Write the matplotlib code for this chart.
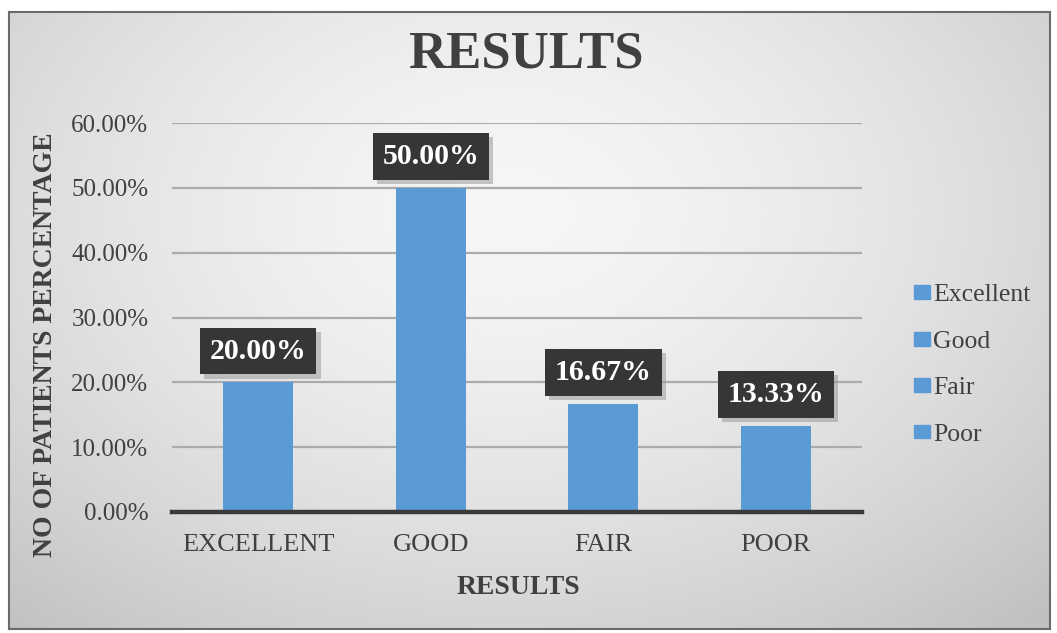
import numpy as np
import matplotlib
matplotlib.use("Agg")
import matplotlib.pyplot as plt
from matplotlib.patches import Patch
import matplotlib.patheffects as pe

categories = ["EXCELLENT", "GOOD", "FAIR", "POOR"]
legend_labels = ["Excellent", "Good", "Fair", "Poor"]
values = [20.00, 50.00, 16.67, 13.33]
yticks = [0, 10, 20, 30, 40, 50, 60]

SERIF = ["Liberation Serif", "DejaVu Serif"]
plt.rcParams["font.family"] = SERIF
TXT = "#404040"

W, H = 1057, 633
fig = plt.figure(figsize=(W / 100, H / 100), dpi=100)
fig.patch.set_facecolor("white")

# radial gradient panel behind the chart
bg = fig.add_axes([9 / W, 1 - 629 / H, (1050 - 9) / W, (629 - 12) / H], zorder=0)
yy, xx = np.mgrid[0:200, 0:340]
cx, cy = 0.48, 0.32
d = np.sqrt(((xx / 340) - cx) ** 2 + ((yy / 200) - cy) ** 2 * 0.7)
shade = 0.965 - 0.21 * np.clip(d / 0.75, 0, 1) ** 1.6
bg.imshow(np.dstack([shade] * 3), aspect="auto", extent=[0, 1, 0, 1], interpolation="bicubic")
bg.set_xlim(0, 1)
bg.set_ylim(0, 1)
bg.set_xticks([])
bg.set_yticks([])
for s in bg.spines.values():
    s.set_color("#6b6b6b")
    s.set_linewidth(1.5)

ax = fig.add_axes([172 / W, 1 - 512 / H, (862 - 172) / W, (512 - 123) / H], zorder=1)
ax.patch.set_alpha(0)

x = np.arange(len(categories))
bar_color = "#5b9bd5"
ax.bar(x, values, width=0.405, color=bar_color, zorder=2)

ax.set_xlim(-0.5, len(categories) - 0.5)
ax.set_ylim(0, 60)
ax.set_yticks(yticks)
ax.set_yticklabels([f"{v:.2f}%" for v in yticks], fontsize=18, color=TXT)
ax.set_xticks(x)
ax.set_xticklabels(categories, fontsize=19, color=TXT)
ax.tick_params(axis="both", length=0)
ax.tick_params(axis="y", pad=17)
ax.tick_params(axis="x", pad=16)
ax.yaxis.grid(True, color="#ababab", linewidth=1.6, zorder=0)
ax.set_axisbelow(True)
for side in ["top", "right", "left"]:
    ax.spines[side].set_visible(False)
ax.spines["bottom"].set_color("#3a3a3a")
ax.spines["bottom"].set_linewidth(3.2)
ax.spines["bottom"].set_zorder(3)

# axis titles and chart title
fig.text(518 / W, 1 - 587 / H, "RESULTS", ha="center", va="center",
         fontsize=20, fontweight="bold", color=TXT)
fig.text(46 / W, 1 - 345 / H, "NO OF PATIENTS PERCENTAGE", ha="center", va="center",
         rotation=90, fontsize=20, fontweight="bold", color=TXT)
fig.text(526 / W, 1 - 55 / H, "RESULTS", ha="center", va="center",
         fontsize=38, fontweight="bold", color=TXT)

# value labels in dark boxes
for xi, v in zip(x, values):
    ax.annotate(f"{v:.2f}%", (xi, v), xytext=(0, 22.5), textcoords="offset points",
                ha="center", va="center", fontsize=21.5, fontweight="bold", color="white",
                zorder=5,
                bbox=dict(boxstyle="square,pad=0.33", fc="#363636", ec="none",
                          path_effects=[pe.withSimplePatchShadow(offset=(3, -3),
                                                                 shadow_rgbFace="#9a9a9a",
                                                                 alpha=0.55)]))

handles = [Patch(color=bar_color) for _ in legend_labels]
leg = fig.legend(handles, legend_labels, loc="center left",
                 bbox_to_anchor=(891 / W, 1 - 365 / H), frameon=False,
                 prop=dict(family=SERIF, size=18.5), labelcolor=TXT,
                 handlelength=0.6, handleheight=0.45, handletextpad=0.15,
                 labelspacing=0.95)
for t in leg.get_texts():
    t.set_fontfamily(SERIF)

fig.savefig("out.png", dpi=100)
